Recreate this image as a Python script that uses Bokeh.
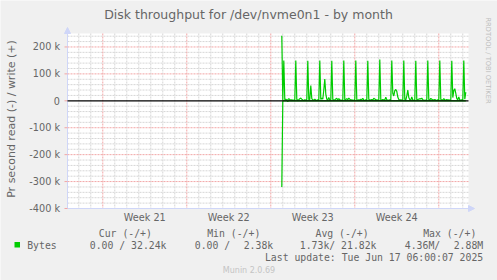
import math
import pandas as pd
from bokeh.plotting import figure
from bokeh.models import Range1d, Arrow, NormalHead
from bokeh.core.properties import value
from bokeh.embed import file_html
from bokeh.resources import INLINE

# ---------------- data ----------------
title_text = "Disk throughput for /dev/nvme0n1 - by month"
y_axis_title = "Pr second read (-) / write (+)"
week_starts = ["2025-05-18", "2025-05-25", "2025-06-01", "2025-06-08", "2025-06-15"]
week_labels = ["Week 21", "Week 22", "Week 23", "Week 24"]
view_start = "2025-05-15 01:25"
view_end = "2025-06-17 11:25"
first_sample = "2025-06-01 22:00"
sample_step = "2h"

# write (+) in kB/s, one value per 2 h sample
write_k = [
    242, 3, 150, 4, 6, 3, 4, 8, 5, 3, 4, 2,
    3, 4, 150, 5, 3, 4, 8, 10, 6, 3, 2, 4,
    3, 5, 149, 4, 5, 57, 8, 3, 4, 6, 3, 2,
    4, 3, 150, 5, 10, 6, 40, 81, 25, 6, 3, 12,
    3, 4, 149, 5, 3, 4, 7, 9, 3, 8, 4, 3,
    2, 4, 150, 3, 5, 8, 4, 10, 6, 3, 4, 2,
    3, 5, 150, 4, 3, 4, 3, 6, 4, 9, 3, 2,
    4, 3, 149, 5, 4, 3, 5, 3, 9, 7, 3, 4,
    3, 4, 153, 4, 3, 5, 4, 3, 13, 4, 3, 2,
    4, 3, 150, 28, 18, 38, 42, 35, 14, 5, 3, 4,
    3, 4, 150, 5, 3, 18, 40, 12, 4, 3, 14, 3,
    2, 4, 149, 3, 5, 6, 8, 7, 10, 4, 3, 2,
    3, 5, 150, 4, 3, 9, 6, 3, 4, 5, 3, 2,
    4, 3, 150, 5, 4, 3, 8, 4, 3, 5, 3, 4,
    3, 4, 149, 12, 38, 45, 28, 8, 4, 14, 3, 3,
    4, 3, 150, 6, 32.24,
]
# read (-) in kB/s
read_k = [320, 0, 0, 0, 0, 0, 2.6] + [0] * (len(write_k) - 7)

y_ticks = [-400000, -300000, -200000, -100000, 0, 100000, 200000]
y_tick_labels = ["-400 k", "-300 k", "-200 k", "-100 k", "0", "100 k", "200 k"]
y_minor_step = 20000
y_min, y_max = -400000, 250000

legend_headers = ["Cur (-/+)", "Min (-/+)", "Avg (-/+)", "Max (-/+)"]
legend_name = "Bytes"
legend_values = [("0.00 / 32.24k", ""), ("0.00 /", "2.38k"), ("1.73k/ 21.82k", ""), ("4.36M/", "2.88M")]
last_update = "Last update: Tue Jun 17 06:00:07 2025"
watermark = "Munin 2.0.69"
side_text = "RRDTOOL / TOBI OETIKER"

# ---------------- helpers ----------------
EPOCH = pd.Timestamp("1970-01-01")
def ms(ts):
    return int((pd.Timestamp(ts) - EPOCH) / pd.Timedelta(milliseconds=1))

DAY = 86400000
times = pd.date_range(first_sample, periods=len(write_k), freq=sample_step)
xs = [ms(t) for t in times]
write_v = [v * 1000 for v in write_k]
read_v = [-v * 1000 for v in read_k]

x0, x1 = ms(view_start), ms(view_end)
week_ms = [ms(w) for w in week_starts]
week_centers = [w + DAY * 7 // 2 for w in week_ms[:-1]]
day_ticks = [d for d in range(week_ms[0] - 3 * DAY, x1, DAY) if d not in week_ms and d > x0]
y_minor = [v for v in range(y_min + y_minor_step, y_max, y_minor_step) if v % 100000 != 0]
y_major_grid = [t for t in y_ticks if t != 0 and t != y_min]

# canvas layout (pixels)
W, H = 497, 280
PL, PR, PT, PB = 67, 468, 33, 208          # plot area edges
px_ms = (x1 - x0) / (PR - PL)
py_v = (y_max - y_min) / (PB - PT)
X_LEFT = x0 - PL * px_ms
X_RIGHT = x0 + (W - PL) * px_ms
Y_TOP = y_max + PT * py_v
Y_BOTTOM = y_max - (H - PT) * py_v

def X(px):
    return X_LEFT + px * px_ms

def Y(py):
    return Y_TOP - py * py_v

BG = "#F0F0F0"
FONT_COLOR = "#666666"
AXIS_COLOR = "#CFD6F8"
GREEN = "#00CC00"
MINOR = "#d6d6d6"
MAJOR = "#f2a6a6"

p = figure(width=W, height=H, output_backend="svg", toolbar_location=None,
           x_range=Range1d(X_LEFT, X_RIGHT), y_range=Range1d(Y_BOTTOM, Y_TOP),
           x_axis_location=None, y_axis_location=None, min_border=0,
           background_fill_color=BG, border_fill_color=BG, outline_line_color=None)
p.grid.visible = False

# plot canvas
p.quad(left=[x0], right=[x1], bottom=[y_min], top=[y_max], fill_color="white", line_color=None)

# grids
p.segment(x0=day_ticks, y0=[y_max] * len(day_ticks), x1=day_ticks, y1=[y_min] * len(day_ticks),
          line_color=MINOR, line_width=1, line_dash="2 1")
p.segment(x0=[x0] * len(y_minor), y0=y_minor, x1=[x1] * len(y_minor), y1=y_minor,
          line_color=MINOR, line_width=1, line_dash="2 1")
p.segment(x0=week_ms, y0=[y_max] * len(week_ms), x1=week_ms, y1=[y_min] * len(week_ms),
          line_color=MAJOR, line_width=1, line_dash="2 1")
p.segment(x0=[x0] * len(y_major_grid), y0=y_major_grid, x1=[x1] * len(y_major_grid), y1=y_major_grid,
          line_color=MAJOR, line_width=1, line_dash="2 1")

# axes lines + arrows
p.segment(x0=[x0], y0=[y_min], x1=[x1 + 2 * px_ms], y1=[y_min], line_color=AXIS_COLOR, line_width=1)
p.segment(x0=[x0], y0=[y_min], x1=[x0], y1=[y_max + 2 * py_v], line_color=AXIS_COLOR, line_width=1)
p.add_layout(Arrow(x_start=x1, y_start=y_min, x_end=x1 + 6 * px_ms, y_end=y_min,
                   line_color=AXIS_COLOR, line_width=1,
                   end=NormalHead(size=6, fill_color=AXIS_COLOR, line_color=AXIS_COLOR)))
p.add_layout(Arrow(x_start=x0, y_start=y_max, x_end=x0, y_end=y_max + 6 * py_v,
                   line_color=AXIS_COLOR, line_width=1,
                   end=NormalHead(size=6, fill_color=AXIS_COLOR, line_color=AXIS_COLOR)))
# small tick marks on the y axis
p.segment(x0=[X(PL - 3)] * len(y_ticks), y0=y_ticks, x1=[x0] * len(y_ticks), y1=y_ticks,
          line_color=MAJOR, line_width=1)

# tick labels
p.text(x=[X(PL - 7.5)] * len(y_ticks), y=y_ticks, text=y_tick_labels,
       text_font=value("DejaVu Sans"), text_font_size="9.7px", text_color=FONT_COLOR,
       text_align="right", text_baseline="middle")
p.text(x=week_centers, y=[Y(217.3)] * len(week_centers), text=week_labels,
       text_font=value("DejaVu Sans"), text_font_size="9.7px", text_color=FONT_COLOR,
       text_align="center", text_baseline="middle")

# data lines
p.line(xs, write_v, line_color=GREEN, line_width=1.2)
p.line(xs, read_v, line_color=GREEN, line_width=1.2)
p.segment(x0=[x0], y0=[0], x1=[x1], y1=[0], line_color="black", line_width=1.2)

def text(t, px, py, size, color=FONT_COLOR, font="DejaVu Sans", align="left", angle=0.0):
    p.text(x=[X(px)], y=[Y(py)], text=[t], text_font=value(font), text_font_size=size,
           text_color=color, text_align=align, text_baseline="middle", angle=angle)

text(title_text, 248, 13.5, "12.5px", align="center")
text(y_axis_title, 11, 118.5, "11px", align="center", angle=math.pi / 2)
text(side_text, 487.5, 60, "6.7px", color="#bdbdbd", align="center", angle=-math.pi / 2)

MONO = "DejaVu Sans Mono"
LS = "9.8px"
for hdr, hx in zip(legend_headers, [98.3, 206.7, 315, 422.7]):
    text(hdr, hx, 233, LS, font=MONO)
text(legend_name, 26.7, 244.5, LS, font=MONO)
for (left_part, right_part), lx, rx in zip(legend_values, [89.3, 194.3, 299.3, 404.3], [166.7, 272.7, 377.7, 482.7]):
    text(left_part, lx, 244.5, LS, font=MONO)
    if right_part:
        text(right_part, rx, 244.5, LS, font=MONO, align="right")
text(last_update, 482.7, 257, LS, font=MONO, align="right")
text(watermark, 248.5, 269.5, "8px", color="#c4c4c4", align="center")

# legend swatch
p.quad(left=[X(14)], right=[X(19.5)], top=[Y(241.5)], bottom=[Y(247)], fill_color=GREEN, line_color=None)

open("out.html", "w").write(file_html(p, INLINE))
